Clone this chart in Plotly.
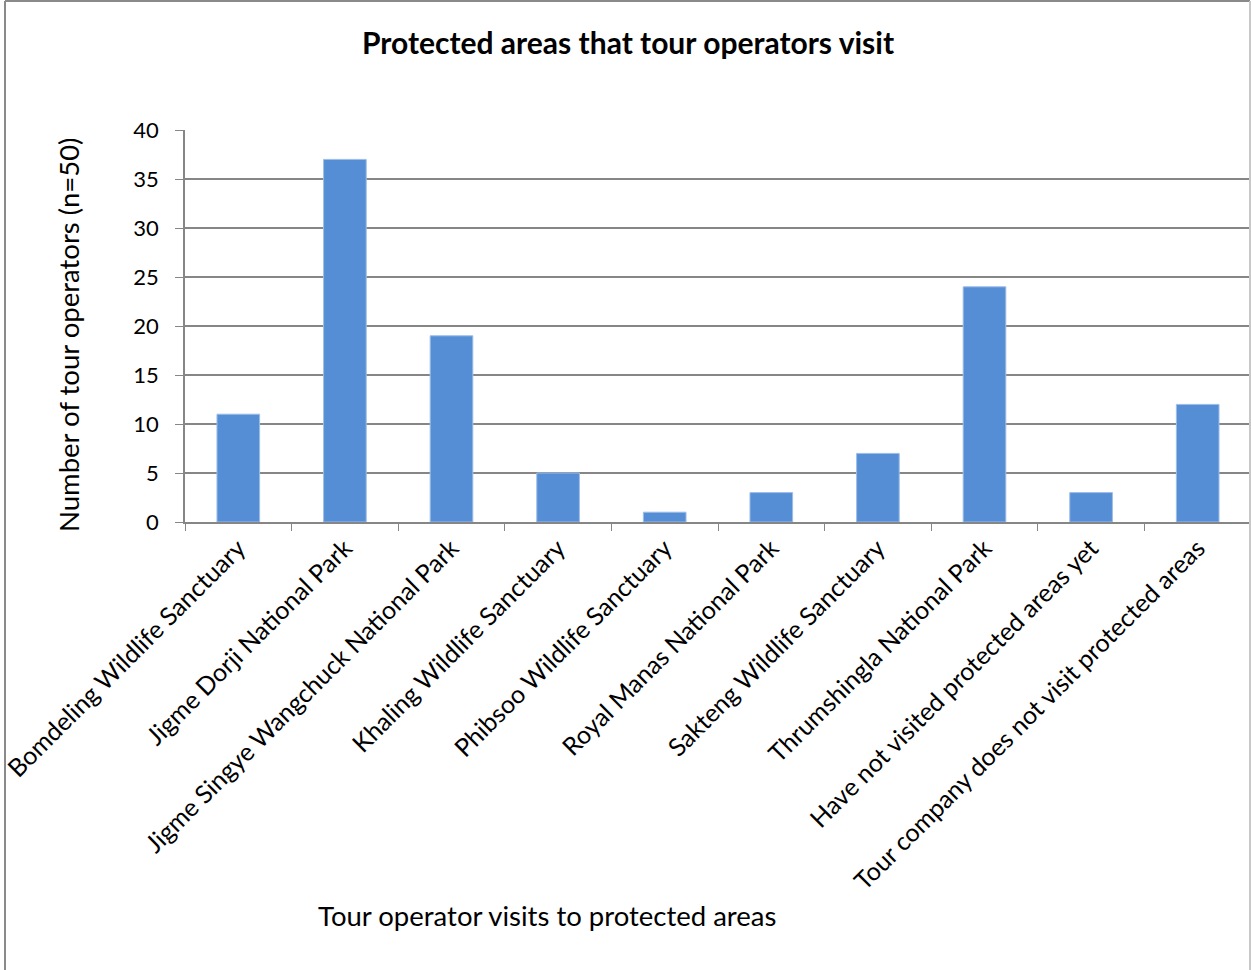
import plotly.graph_objects as go

categories = [
    "Bomdeling Wildlife Sanctuary",
    "Jigme Dorji National Park",
    "Jigme Singye Wangchuck National Park",
    "Khaling Wildlife Sanctuary",
    "Phibsoo Wildlife Sanctuary",
    "Royal Manas National Park",
    "Sakteng Wildlife Sanctuary",
    "Thrumshingla National Park",
    "Have not visited protected areas yet",
    "Tour company does not visit protected areas",
]
values = [11, 37, 19, 5, 1, 3, 7, 24, 3, 12]
y_ticks = [0, 5, 10, 15, 20, 25, 30, 35, 40]

W, H = 1251, 970
L, R, T, B = 185, 0, 130, 448
FONT = "Lato, Carlito, 'Open Sans', sans-serif"

def px_x(p):
    return (p - L) / (W - L - R)

def px_y(p):
    return 1 - (p - T) / (H - T - B)

fig = go.Figure(go.Bar(
    x=categories, y=values,
    marker=dict(color="#558ED5", line=dict(color="#9DBDE8", width=1)),
    width=0.4,
))

fig.update_layout(
    width=W, height=H,
    margin=dict(l=L, r=R, t=T, b=B),
    paper_bgcolor="white", plot_bgcolor="white",
    showlegend=False,
    font=dict(family=FONT, color="black"),
    title=dict(text="<b>Protected areas that tour operators visit</b>",
               x=628 / W, xanchor="center", y=1 - 43 / H, yanchor="middle",
               font=dict(size=30, family=FONT, color="black")),
    xaxis=dict(
        tickangle=-45, tickfont=dict(size=25, family=FONT, color="black"),
        ticks="outside", tickson="boundaries", ticklen=7, tickcolor="#868686",
        showline=True, linecolor="#868686", linewidth=1.5,
        showgrid=False,
    ),
    yaxis=dict(
        range=[0, 40], tickvals=y_ticks,
        tickfont=dict(size=22, family=FONT, color="black"),
        ticks="outside", ticklen=8, tickcolor="#868686",
        ticklabelstandoff=12,
        showline=True, linecolor="#868686", linewidth=1.5,
        showgrid=True, gridcolor="#868686", gridwidth=1.5,
        zeroline=False,
    ),
    annotations=[
        dict(text="Number of tour operators (n=50)", textangle=-90,
             xref="paper", yref="paper", x=px_x(68), y=px_y(335),
             xanchor="center", yanchor="middle", showarrow=False,
             font=dict(size=27.5, family=FONT, color="black")),
        dict(text="Tour operator visits to protected areas",
             xref="paper", yref="paper", x=px_x(547), y=px_y(915),
             xanchor="center", yanchor="middle", showarrow=False,
             font=dict(size=27.5, family=FONT, color="black")),
    ],
    shapes=[
        dict(type="line", xref="paper", yref="paper",
             x0=px_x(5), x1=px_x(5), y0=px_y(1), y1=px_y(975),
             line=dict(color="#8A8A8A", width=2)),
        dict(type="line", xref="paper", yref="paper",
             x0=px_x(5), x1=px_x(1250), y0=px_y(1), y1=px_y(1),
             line=dict(color="#8A8A8A", width=2)),
        dict(type="line", xref="paper", yref="paper",
             x0=px_x(1250), x1=px_x(1250), y0=px_y(1), y1=px_y(975),
             line=dict(color="#C8C8C8", width=2)),
    ],
)

fig.write_html("out.html")
